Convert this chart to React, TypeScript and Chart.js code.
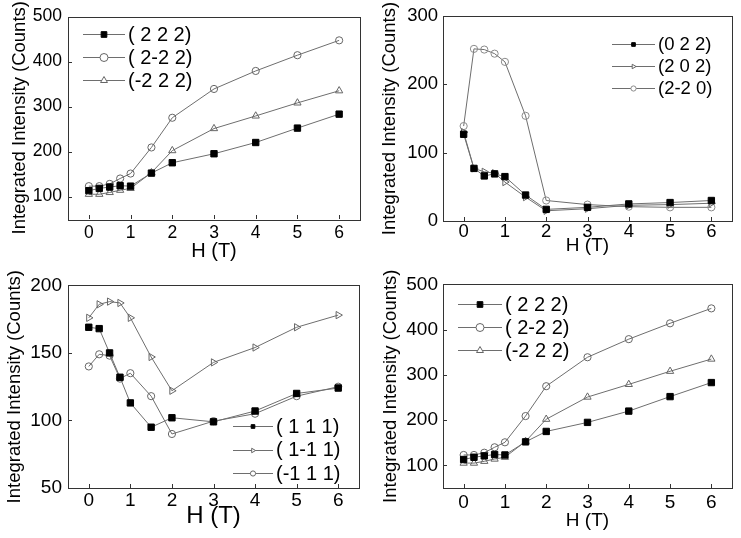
import React, { useRef, useEffect } from 'react';
import { Chart, registerables } from 'chart.js';

Chart.register(...registerables);

// magnetic field, T
const hField = [0, 0.25, 0.5, 0.75, 1, 1.5, 2, 3, 4, 5, 6];
const xTicks = [0, 1, 2, 3, 4, 5, 6];

// (2 2 2) family, top-left and bottom-right
const i222 = [113, 118, 121, 124, 123, 152, 175, 195, 220, 252, 283];
const i2m22 = [123, 123, 128, 140, 151, 209, 275, 339, 379, 414, 447];
const im222 = [105, 105, 109, 114, 118, 153, 202, 251, 279, 308, 335];
const ticks222 = [100, 200, 300, 400, 500];

// (0 2 2) family, top-right
const i022 = [127, 77, 66, 69, 65, 38, 17, 20, 25, 27, 30];
const i202 = [130, 77, 72, 70, 57, 35, 15, 18, 23, 24, 26];
const i2m20 = [139, 252, 251, 245, 233, 154, 30, 24, 21, 20, 20];
const ticks022 = [0, 100, 200, 300];

// (1 1 1) family, bottom-left
const i111 = [169, 168, 150, 132, 113, 95, 102, 99, 107, 120, 124];
const i1m11 = [176, 186, 188, 187, 176, 147, 122, 143, 154, 169, 178];
const im111 = [140, 149, 148, 131, 135, 118, 90, 99.5, 105, 118, 125];
const ticks111 = [50, 100, 150, 200];

const FONT = '"Liberation Sans", Arial, sans-serif';
const LINE = '#6e6e6e';

type Marker = 'rect' | 'circle' | 'triangle';

interface Series {
  label: string;
  data: number[];
  marker: Marker;
  rotation?: number;
  fill: string;
  edge: string;
  radius: number;
}

interface PanelSpec {
  left: number;
  top: number;
  width: number;
  height: number;
  yMin: number;
  yMax: number;
  yTicks: number[];
  yWidth: number;
  padTop: number;
  padRight: number;
  xHeight: number;
  tickSize: number;
  xTickPad: number;
  yTickPad: number;
  xTitleSize: number;
  xTitlePad: number;
  yTitleSize: number;
  yTitlePad: number;
  legendX: number; // line start
  legendY: number; // first row
  legendDy: number;
  legendLen: number;
  legendSize: number;
  legendR: number;
  series: Series[];
}

const sq = (label: string, data: number[]): Series => ({
  label, data, marker: 'rect', fill: '#000', edge: '#000', radius: 4.5,
});
const ci = (label: string, data: number[], edge = '#666'): Series => ({
  label, data, marker: 'circle', fill: 'rgba(255,255,255,0)', edge, radius: 3.6,
});
const tri = (label: string, data: number[], rotation = 0): Series => ({
  label, data, marker: 'triangle', rotation, fill: 'rgba(255,255,255,0)', edge: '#666', radius: 4.2,
});

const set222 = [sq('( 2 2 2)', i222), ci('( 2-2 2)', i2m22), tri('(-2 2 2)', im222)];

const panels: PanelSpec[] = [
  {
    left: 0, top: 0, width: 370, height: 268,
    yMin: 50, yMax: 500, yTicks: ticks222,
    yWidth: 68, padTop: 13, padRight: 10, xHeight: 49,
    tickSize: 17.5, xTickPad: 3.5, yTickPad: 6,
    xTitleSize: 20, xTitlePad: 5, yTitleSize: 18.5, yTitlePad: 9,
    legendX: 83, legendY: 34, legendDy: 23, legendLen: 42, legendSize: 20, legendR: 4,
    series: set222,
  },
  {
    left: 370, top: 0, width: 371, height: 268,
    yMin: 0, yMax: 300, yTicks: ticks022,
    yWidth: 73, padTop: 15, padRight: 9, xHeight: 47,
    tickSize: 18.5, xTickPad: 0, yTickPad: 5,
    xTitleSize: 19, xTitlePad: 11, yTitleSize: 18.5, yTitlePad: 9,
    legendX: 242, legendY: 44, legendDy: 22, legendLen: 43, legendSize: 18.5, legendR: 2.6,
    series: [sq('(0 2 2)', i022), tri('(2 0 2)', i202, 90), ci('(2-2 0)', i2m20, '#8a8a8a')],
  },
  {
    left: 0, top: 268, width: 370, height: 270,
    yMin: 50, yMax: 200, yTicks: ticks111,
    yWidth: 68, padTop: 15, padRight: 11, xHeight: 50,
    tickSize: 19, xTickPad: 1, yTickPad: 6,
    xTitleSize: 24, xTitlePad: 7.5, yTitleSize: 18.5, yTitlePad: 4,
    legendX: 233, legendY: 158, legendDy: 23.5, legendLen: 40, legendSize: 20, legendR: 2.6,
    series: [sq('( 1 1 1)', i111), tri('( 1-1 1)', i1m11, 90), ci('(-1 1 1)', im111)],
  },
  {
    left: 370, top: 268, width: 371, height: 270,
    yMin: 50, yMax: 500, yTicks: ticks222,
    yWidth: 73, padTop: 15, padRight: 9, xHeight: 50,
    tickSize: 19, xTickPad: 3, yTickPad: 5,
    xTitleSize: 19, xTitlePad: 5.5, yTitleSize: 18.5, yTitlePad: 10,
    legendX: 88, legendY: 36, legendDy: 23, legendLen: 44, legendSize: 20, legendR: 4,
    series: set222,
  },
];

function drawMarker(ctx: CanvasRenderingContext2D, s: Series, x: number, y: number, r: number) {
  ctx.save();
  ctx.translate(x, y);
  ctx.rotate(((s.rotation || 0) * Math.PI) / 180);
  ctx.beginPath();
  if (s.marker === 'rect') {
    const h = r * Math.SQRT1_2;
    ctx.rect(-h, -h, 2 * h, 2 * h);
  } else if (s.marker === 'circle') {
    ctx.arc(0, 0, r, 0, Math.PI * 2);
  } else {
    ctx.moveTo(0, -r);
    ctx.lineTo(r * 0.866, r * 0.5);
    ctx.lineTo(-r * 0.866, r * 0.5);
    ctx.closePath();
  }
  ctx.fillStyle = s.marker === 'rect' ? s.fill : '#fff';
  ctx.fill();
  ctx.lineWidth = 1;
  ctx.strokeStyle = s.edge;
  ctx.stroke();
  ctx.restore();
}

const Panel: React.FC<{ spec: PanelSpec }> = ({ spec }) => {
  const canvasRef = useRef<HTMLCanvasElement>(null);

  useEffect(() => {
    if (!canvasRef.current) return;

    // box round the plot with inward ticks
    const framePlugin = {
      id: 'frame',
      afterDatasetsDraw(chart: any) {
        const { ctx, chartArea: a, scales } = chart;
        ctx.save();
        ctx.strokeStyle = '#333';
        ctx.lineWidth = 1;
        ctx.strokeRect(Math.round(a.left) + 0.5, Math.round(a.top) + 0.5,
          Math.round(a.right - a.left), Math.round(a.bottom - a.top));
        ctx.beginPath();
        scales.x.ticks.forEach((t: any) => {
          const px = Math.round(scales.x.getPixelForValue(t.value)) + 0.5;
          ctx.moveTo(px, a.bottom);
          ctx.lineTo(px, a.bottom - 4);
        });
        scales.y.ticks.forEach((t: any) => {
          const py = Math.round(scales.y.getPixelForValue(t.value)) + 0.5;
          ctx.moveTo(a.left, py);
          ctx.lineTo(a.left + 4, py);
        });
        ctx.stroke();
        ctx.restore();
      },
    };

    const legendPlugin = {
      id: 'sketchLegend',
      afterDraw(chart: any) {
        const { ctx } = chart;
        ctx.save();
        spec.series.forEach((s, i) => {
          const y = spec.legendY + i * spec.legendDy;
          const x0 = spec.legendX;
          const x1 = x0 + spec.legendLen;
          ctx.strokeStyle = LINE;
          ctx.lineWidth = 1;
          ctx.beginPath();
          ctx.moveTo(x0, Math.round(y) + 0.5);
          ctx.lineTo(x1, Math.round(y) + 0.5);
          ctx.stroke();
          drawMarker(ctx, s, (x0 + x1) / 2, Math.round(y) + 0.5, spec.legendR);
          ctx.fillStyle = '#000';
          ctx.font = `${spec.legendSize}px ${FONT}`;
          ctx.textBaseline = 'middle';
          ctx.textAlign = 'left';
          ctx.fillText(s.label, x1 + 3, y + 1);
        });
        ctx.restore();
      },
    };

    const chart = new Chart(canvasRef.current, {
      type: 'line',
      data: {
        datasets: spec.series.map((s) => ({
          label: s.label,
          data: hField.map((h, i) => ({ x: h, y: s.data[i] })),
          borderColor: LINE,
          borderWidth: 1,
          pointStyle: s.marker,
          pointRotation: s.rotation || 0,
          pointRadius: s.radius,
          pointBackgroundColor: s.fill,
          pointBorderColor: s.edge,
          pointBorderWidth: 1,
          tension: 0,
        })),
      },
      options: {
        animation: false,
        responsive: false,
        layout: { padding: { top: spec.padTop, right: spec.padRight, left: 0, bottom: 0 } },
        plugins: { legend: { display: false }, tooltip: { enabled: false } },
        scales: {
          x: {
            type: 'linear',
            min: -0.5,
            max: 6.5,
            afterBuildTicks: (sc: any) => { sc.ticks = xTicks.map((v) => ({ value: v })); },
            afterFit: (sc: any) => { sc.height = spec.xHeight; },
            grid: { display: false, drawTicks: false },
            border: { display: false },
            ticks: { color: '#000', font: { family: FONT, size: spec.tickSize }, padding: spec.xTickPad, maxRotation: 0 },
            title: {
              display: true,
              text: 'H (T)',
              color: '#000',
              font: { family: FONT, size: spec.xTitleSize },
              padding: { top: 0, bottom: spec.xTitlePad },
            },
          },
          y: {
            type: 'linear',
            min: spec.yMin,
            max: spec.yMax,
            afterBuildTicks: (sc: any) => { sc.ticks = spec.yTicks.map((v) => ({ value: v })); },
            afterFit: (sc: any) => { sc.width = spec.yWidth; },
            grid: { display: false, drawTicks: false },
            border: { display: false },
            ticks: { color: '#000', font: { family: FONT, size: spec.tickSize }, padding: spec.yTickPad },
            title: {
              display: true,
              text: 'Integrated Intensity (Counts)',
              color: '#000',
              font: { family: FONT, size: spec.yTitleSize },
              padding: { top: spec.yTitlePad, bottom: 0 },
            },
          },
        },
      } as any,
      plugins: [framePlugin, legendPlugin],
    });

    return () => {
      chart.destroy();
    };
  }, [spec]);

  return (
    <canvas
      ref={canvasRef}
      width={spec.width}
      height={spec.height}
      style={{ position: 'absolute', left: spec.left, top: spec.top, width: spec.width, height: spec.height }}
    />
  );
};

export default function App() {
  return (
    <div style={{ position: 'fixed', left: 0, top: 0, width: 741, height: 538, background: '#fff', overflow: 'hidden' }}>
      {panels.map((p, i) => (
        <Panel key={i} spec={p} />
      ))}
    </div>
  );
}
